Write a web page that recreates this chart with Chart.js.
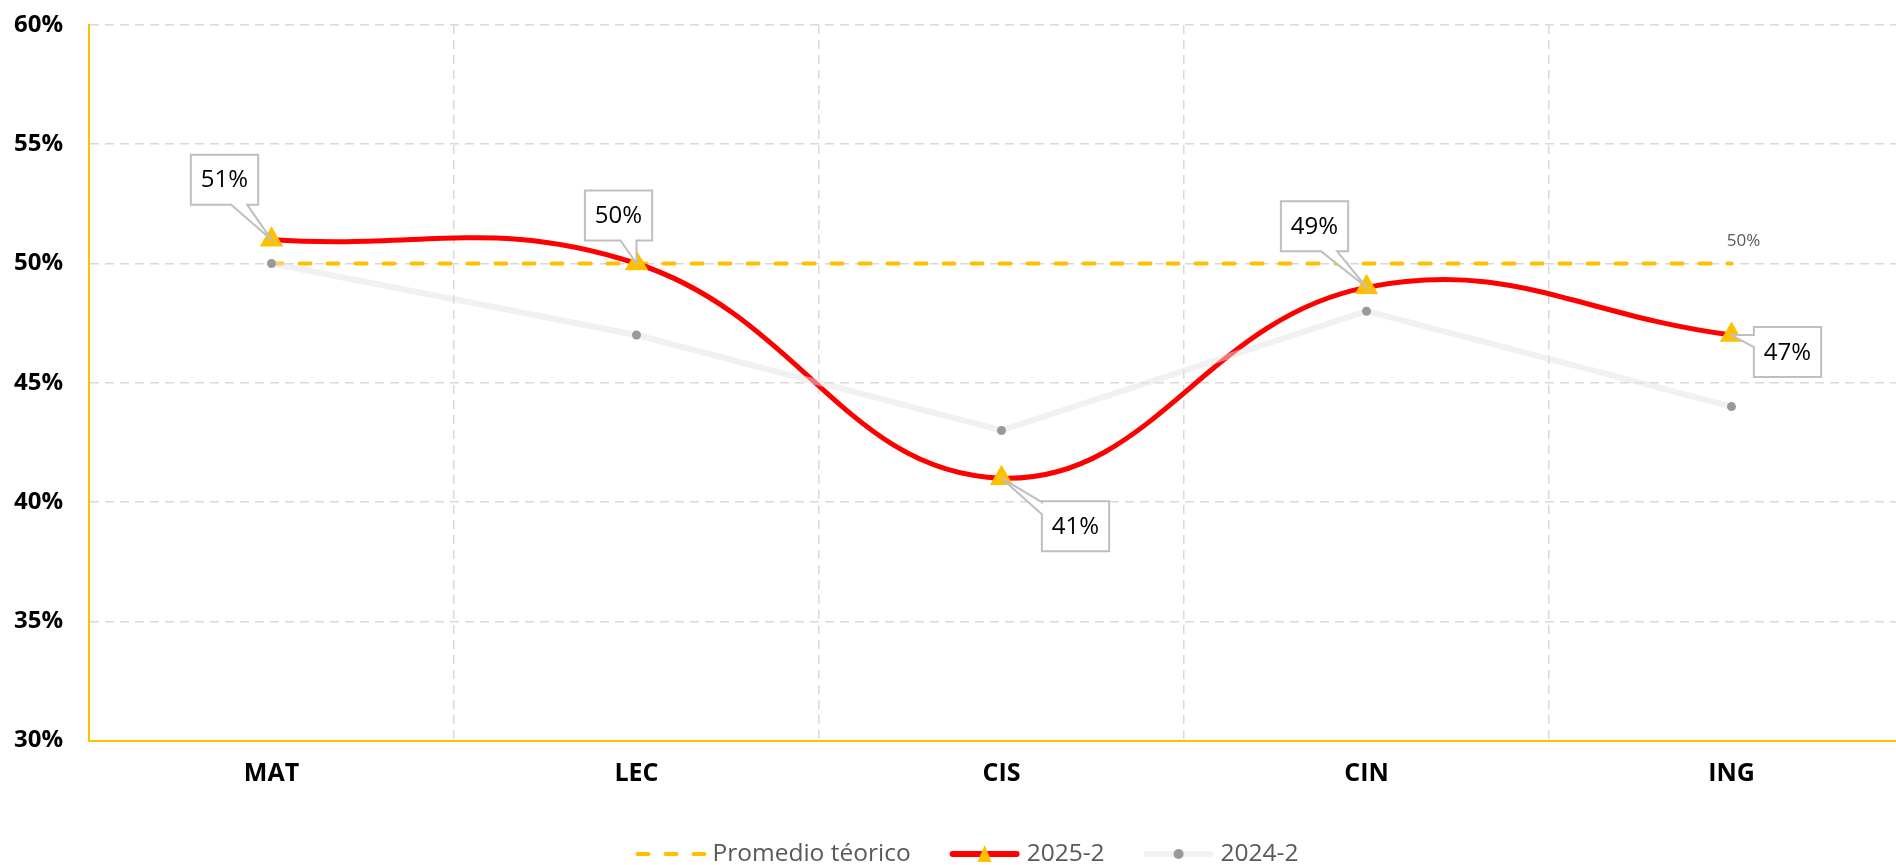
<!DOCTYPE html>
<html><head><meta charset="utf-8">
<script src="https://cdn.jsdelivr.net/npm/chart.js@4/dist/chart.umd.min.js"></script>
<style>html,body{margin:0;padding:0;background:#fff;overflow:hidden;width:1896px;height:865px}#wrap{width:1914px;height:865px;position:relative}</style>
</head><body><div id="wrap"><canvas id="c"></canvas></div>
<script>
const categories = ['MAT', 'LEC', 'CIS', 'CIN', 'ING'];
const promedioTeorico = [50, 50, 50, 50, 50];
const serie2025 = [51, 50, 41, 49, 47];
const serie2024 = [50, 47, 43, 48, 44];
const seriesNames = ['Promedio téorico', '2025-2', '2024-2'];
const yMin = 30, yMax = 60, yStep = 5;

const FONT = '"Open Sans", "Noto Sans", sans-serif';
const YELLOW = '#FFC000', RED = '#FF0000', GRID = '#d9d9d9';

// callout offsets (px) relative to each point of 2025-2
const calloutOffsets = [[-47, -60], [-18, -48], [74, 48], [-52, -61], [56, 17]];

const calloutPlugin = {
  id: 'callouts',
  afterDatasetsDraw(chart) {
    const ctx = chart.ctx;
    const meta = chart.getDatasetMeta(1);
    ctx.save();
    ctx.font = '24px ' + FONT;
    meta.data.forEach((pt, i) => {
      const text = chart.data.datasets[1].data[i] + '%';
      const tw = ctx.measureText(text).width;
      const w = tw + 20, h = 50;
      const cx = pt.x + calloutOffsets[i][0], cy = pt.y + calloutOffsets[i][1];
      const L = cx - w / 2, R = cx + w / 2, T = cy - h / 2, B = cy + h / 2;
      const px = pt.x, py = pt.y;
      ctx.beginPath();
      if (py > B) {
        const bx2 = Math.max(L + 20, Math.min(px, R - 11)), bx1 = bx2 - 16;
        ctx.moveTo(L, T); ctx.lineTo(R, T); ctx.lineTo(R, B);
        ctx.lineTo(bx2, B); ctx.lineTo(px, py); ctx.lineTo(bx1, B);
        ctx.lineTo(L, B); ctx.closePath();
      } else {
        const by1 = Math.max(T + 1, Math.min(py, B - 13)), by2 = by1 + 12;
        ctx.moveTo(L, T); ctx.lineTo(R, T); ctx.lineTo(R, B); ctx.lineTo(L, B);
        ctx.lineTo(L, by2); ctx.lineTo(px, py); ctx.lineTo(L, by1); ctx.closePath();
      }
      ctx.fillStyle = '#fff';
      ctx.fill();
      ctx.lineWidth = 2;
      ctx.strokeStyle = '#bfbfbf';
      ctx.lineJoin = 'miter';
      ctx.stroke();
      ctx.fillStyle = '#000';
      ctx.textAlign = 'center';
      ctx.textBaseline = 'middle';
      ctx.fillText(text, cx, cy + 1);
    });
    // label at end of promedio line
    const pm = chart.getDatasetMeta(0);
    const last = pm.data[pm.data.length - 1];
    ctx.font = '17px ' + FONT;
    ctx.fillStyle = '#595959';
    ctx.textAlign = 'center';
    ctx.textBaseline = 'middle';
    ctx.fillText(chart.data.datasets[0].data[pm.data.length - 1] + '%', last.x + 12, last.y - 22);
    ctx.restore();
  }
};

function drawIcon(ctx, kind, x, y) {
  ctx.save();
  if (kind === 0) {
    ctx.strokeStyle = YELLOW; ctx.lineWidth = 4; ctx.lineCap = 'round';
    ctx.setLineDash([11, 17]);
    ctx.beginPath(); ctx.moveTo(x + 2, y); ctx.lineTo(x + 70, y); ctx.stroke();
  } else if (kind === 1) {
    ctx.strokeStyle = RED; ctx.lineWidth = 6; ctx.lineCap = 'round';
    ctx.beginPath(); ctx.moveTo(x + 3, y); ctx.lineTo(x + 67, y); ctx.stroke();
    ctx.fillStyle = YELLOW;
    ctx.beginPath(); ctx.moveTo(x + 35, y - 9); ctx.lineTo(x + 42, y + 8); ctx.lineTo(x + 28, y + 8); ctx.closePath(); ctx.fill();
  } else {
    ctx.strokeStyle = '#f2f2f2'; ctx.lineWidth = 6; ctx.lineCap = 'round';
    ctx.beginPath(); ctx.moveTo(x + 3, y); ctx.lineTo(x + 67, y); ctx.stroke();
    ctx.fillStyle = '#999999';
    ctx.beginPath(); ctx.arc(x + 35, y, 5, 0, Math.PI * 2); ctx.fill();
  }
  ctx.restore();
}

const legendPlugin = {
  id: 'customLegend',
  afterDraw(chart) {
    const ctx = chart.ctx;
    ctx.save();
    ctx.font = '24.5px ' + FONT;
    const names = chart.data.datasets.map(d => d.label);
    const boxW = 70, gap = 7, itemGap = 39;
    const widths = names.map(n => boxW + gap + ctx.measureText(n).width);
    const total = widths.reduce((a, b) => a + b, 0) + itemGap * (names.length - 1);
    let x = 967 - total / 2;
    const y = 854;
    names.forEach((n, i) => {
      drawIcon(ctx, i, x, y);
      ctx.fillStyle = '#595959';
      ctx.textAlign = 'left';
      ctx.textBaseline = 'middle';
      ctx.fillText(n, x + boxW + gap, y);
      x += widths[i] + itemGap;
    });
    ctx.restore();
  }
};

new Chart(document.getElementById('c'), {
  type: 'line',
  data: {
    labels: categories,
    datasets: [
      {
        label: seriesNames[0], data: promedioTeorico, order: 2,
        borderColor: YELLOW, borderWidth: 4, borderDash: [11, 17], borderCapStyle: 'round',
        pointRadius: 0, pointHoverRadius: 0, tension: 0, fill: false
      },
      {
        label: seriesNames[1], data: serie2025, order: 1,
        borderColor: RED, borderWidth: 5, tension: 0.42, fill: false,
        pointStyle: 'triangle', pointRadius: 13.5, pointHoverRadius: 13.5,
        pointBackgroundColor: YELLOW, pointBorderWidth: 0, pointBorderColor: YELLOW
      },
      {
        label: seriesNames[2], data: serie2024, order: 0,
        borderColor: 'rgba(228,228,228,0.5)', borderWidth: 6, tension: 0, fill: false,
        pointStyle: 'circle', pointRadius: 4.5, pointHoverRadius: 4.5,
        pointBackgroundColor: '#999999', pointBorderWidth: 0
      }
    ]
  },
  options: {
    responsive: true,
    maintainAspectRatio: false,
    animation: false,
    events: [],
    layout: { autoPadding: false, padding: { left: 13, right: 0, top: 25, bottom: 77 } },
    plugins: { legend: { display: false }, tooltip: { enabled: false } },
    scales: {
      x: {
        offset: true,
        grid: { offset: true, color: GRID, lineWidth: 1.5, drawTicks: false },
        border: { display: true, color: YELLOW, width: 2, dash: [9, 6] },
        ticks: { color: '#000', font: { family: FONT, size: 25, weight: 'bold' }, padding: 18 },
        afterFit: (s) => { s.height = 47.5; s.paddingLeft = 0; s.paddingRight = 0; }
      },
      y: {
        min: yMin, max: yMax,
        grid: { color: GRID, lineWidth: 1.5, drawTicks: false },
        border: { display: true, color: YELLOW, width: 2, dash: [9, 6] },
        ticks: { stepSize: yStep, color: '#000', font: { family: FONT, size: 24, weight: 'bold' }, padding: 26,
          callback: v => v + '%' },
        afterFit: (s) => { s.width = 76; s.paddingTop = 0; s.paddingBottom = 0; }
      }
    }
  },
  plugins: [calloutPlugin, legendPlugin]
});
</script>
</body></html>
